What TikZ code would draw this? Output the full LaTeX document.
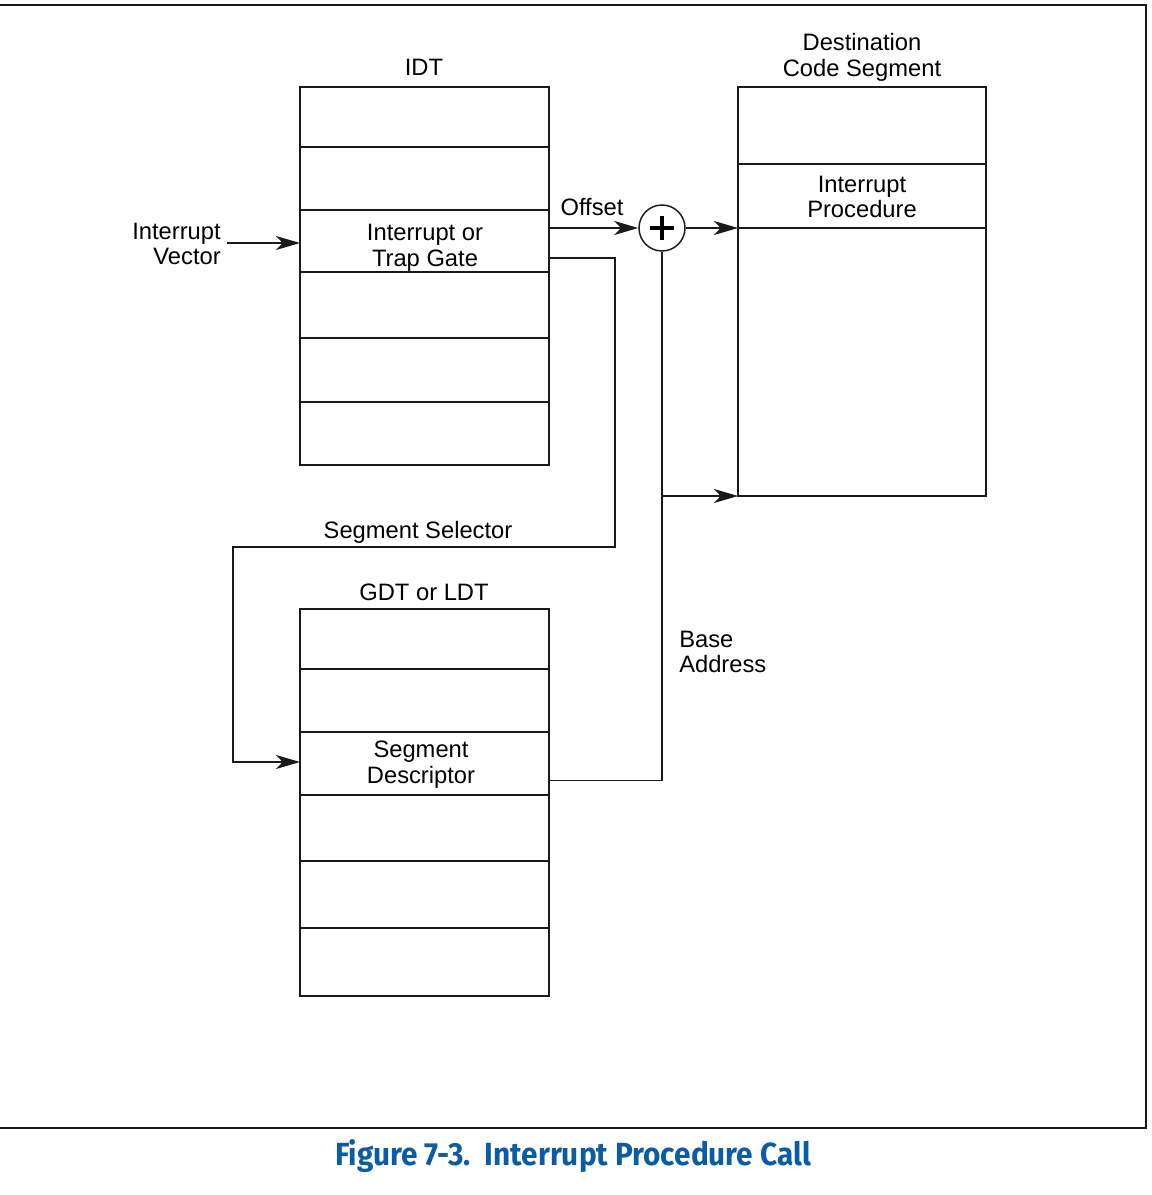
\documentclass[tikz,border=0pt]{standalone}
\usepackage{fontspec}
\setmainfont{Liberation Sans}
\newfontfamily\capfont{Fira Sans}
\usetikzlibrary{arrows.meta,fit,calc}
\definecolor{capblue}{HTML}{0B5CA5}
\definecolor{ink}{HTML}{1A1A1A}
\begin{document}
\begin{tikzpicture}[x=0.75pt,y=-0.75pt,
  cell/.style={draw=ink, line width=1.1pt, inner sep=0pt, outer sep=0pt},
  lbl/.style={font=\fontsize{17.8}{19.4}\selectfont, align=center, inner sep=0pt, text=black},
  conn/.style={draw=ink, line width=0.9pt},
  arr/.style={conn, -{Stealth[length=18pt, width=10.5pt, inset=5pt]}}]
\useasboundingbox (0,0) rectangle (1152,1195);
% frame
\draw[ink, line width=1.6pt] (0,5) -- (1146,5) -- (1146,1128) -- (0,1128);
% IDT
\node[cell, fit={(300,87)(549,147)}] (i1) {};
\node[cell, fit={(300,147)(549,210)}] (i2) {};
\node[cell, fit={(300,210)(549,272)}] (gate) {};
\node[cell, fit={(300,272)(549,338)}] (i4) {};
\node[cell, fit={(300,338)(549,402)}] (i5) {};
\node[cell, fit={(300,402)(549,465)}] (i6) {};
\node[lbl] (idtlbl) at (424,67) {IDT};
\node[lbl] (gatetxt) at (425,248) {Interrupt or\\Trap Gate};
% Destination
\node[cell, fit={(738,87)(986,164)}] (d1) {};
\node[cell, fit={(738,164)(986,228)}] (proc) {};
\node[cell, fit={(738,228)(986,496)}] (d3) {};
\node[lbl] (destlbl) at (862,57) {Destination\\Code Segment};
\node[lbl] (proctxt) at (862,197) {Interrupt\\Procedure};
% GDT
\node[cell, fit={(300,609)(549,669)}] (g1) {};
\node[cell, fit={(300,669)(549,732)}] (g2) {};
\node[cell, fit={(300,732)(549,795)}] (desc) {};
\node[cell, fit={(300,795)(549,861)}] (g4) {};
\node[cell, fit={(300,861)(549,928)}] (g5) {};
\node[cell, fit={(300,928)(549,996)}] (g6) {};
\node[lbl] (gdtlbl) at (424,592) {GDT or LDT};
\node[lbl] (desctxt) at (421,765) {Segment\\Descriptor};
% adder
\node[circle, draw=ink, line width=1.1pt, minimum size=34.5pt, inner sep=0pt] (sum) at (662,228) {};
\draw[line width=3pt] ($(sum.center)+(-12,0)$) -- ($(sum.center)+(12,0)$)
  ($(sum.center)+(0,-12)$) -- ($(sum.center)+(0,12)$);
% labels
\node[lbl, anchor=east, align=right] (vec) at (221,244) {Interrupt\\Vector};
\node[lbl] (offlbl) at (592,207) {Offset};
\node[lbl] (sellbl) at (418,532) {Segment Selector};
\node[lbl, anchor=west, align=left] (baselbl) at (679,652) {Base\\Address};
% connectors
\draw[arr] ([xshift=4.5pt]vec.east |- 0,243) -- (gate.west |- 0,243);
\draw[arr] ($(gate.east)+(0,-13)$) -- (sum.west);
\draw[arr] (sum.east) -- (sum.east -| proc.west);
\coordinate (selR) at (615,547);
\coordinate (selL) at (233,547);
\draw[arr] ($(gate.east)+(0,17)$) -| (selR) -- (selL) |- (desc.west |- 0,762);
\draw[conn] ($(desc.east)+(0,17)$) -| (sum.south);
\coordinate (br) at (sum.south |- d3.south west);
\draw[arr] (br) -- (d3.south west);
% caption
\node[font=\capfont\bfseries\fontsize{24}{28}\selectfont, text=capblue, inner sep=0pt] (cap) at (573,1156)
  {\scalebox{0.93}[1]{Figure 7-3.\ \ Interrupt Procedure Call}};
\end{tikzpicture}
\end{document}
